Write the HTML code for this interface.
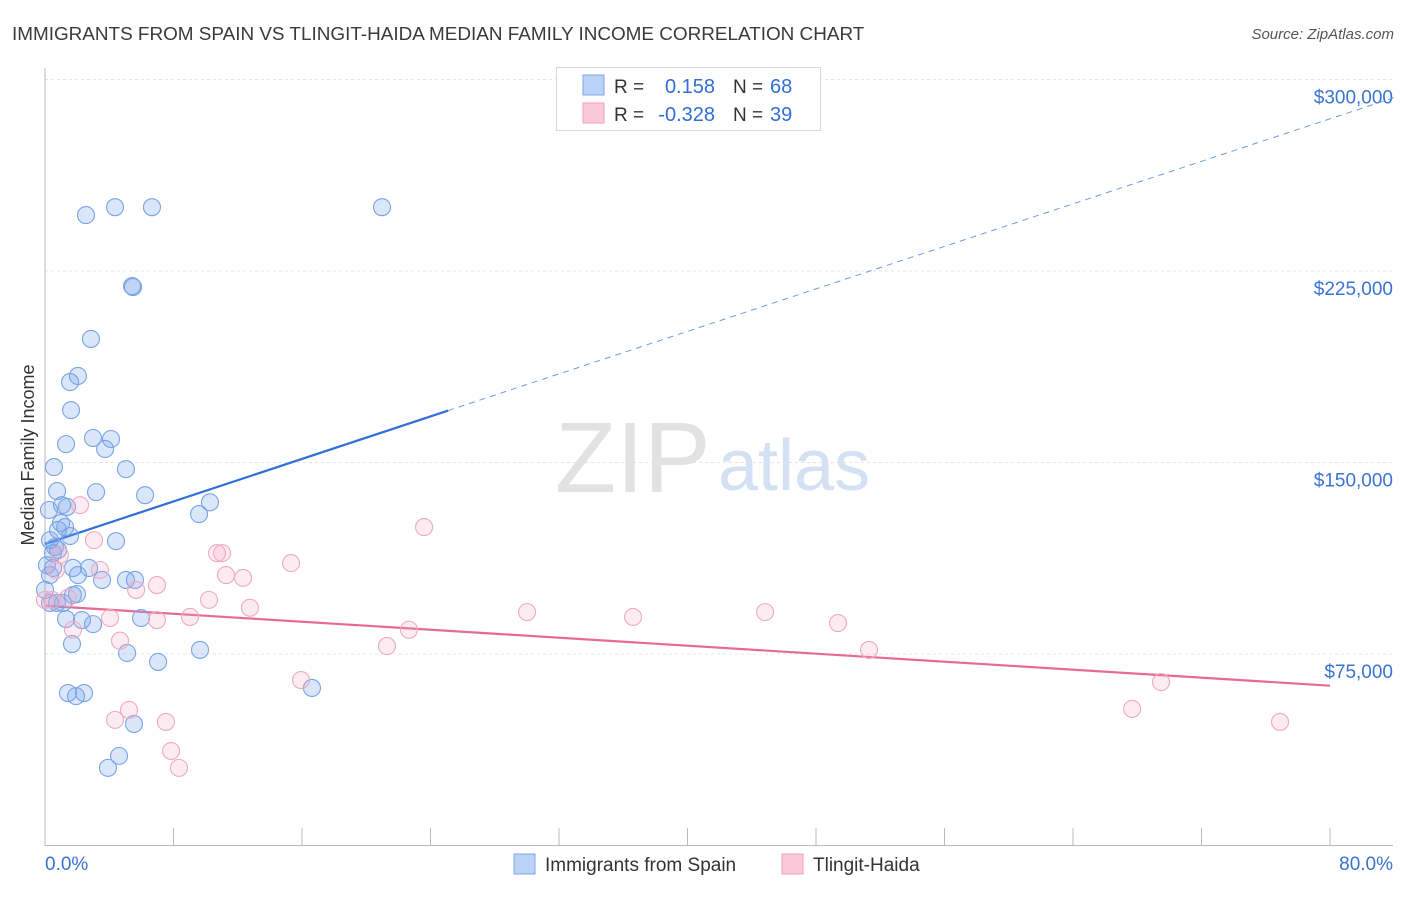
<!DOCTYPE html>
<html><head><meta charset="utf-8"><style>
body{margin:0;background:#fff;font-family:"Liberation Sans",sans-serif;}
svg text{font-family:"Liberation Sans",sans-serif;}
</style></head><body>
<svg id="chart" width="1406" height="892" xmlns="http://www.w3.org/2000/svg">
<text x="12" y="40" font-size="18.9" fill="#3a3a3a">IMMIGRANTS FROM SPAIN VS TLINGIT-HAIDA MEDIAN FAMILY INCOME CORRELATION CHART</text>
<text x="1394" y="39" font-size="15" fill="#555" text-anchor="end" font-style="italic">Source: ZipAtlas.com</text>
<text x="34" y="455" font-size="18" fill="#333" text-anchor="middle" transform="rotate(-90 34 455)">Median Family Income</text>
<text x="555" y="492" font-size="100" fill="#e2e2e2" font-family="Liberation Serif">ZIP</text>
<text x="718" y="490" font-size="72" fill="#d3e1f3">atlas</text>
<g id="grid"></g><g id="axes"></g><g id="lines"></g><g id="pts"></g>
<g>
<rect x="556.5" y="67.5" width="264" height="63" fill="#fff" stroke="#d8d8d8"/>
<rect x="583" y="75" width="21" height="20" fill="#b9d2f5" stroke="#7ea6e6"/>
<rect x="583" y="103" width="21" height="20" fill="#fbc9d8" stroke="#eda3ba"/>
<text x="614" y="93" font-size="19" fill="#333">R =</text><text x="715" y="93" font-size="20" fill="#2f6fd6" text-anchor="end">0.158</text>
<text x="733" y="93" font-size="19" fill="#333">N =</text><text x="770" y="93" font-size="20" fill="#2f6fd6">68</text>
<text x="614" y="121" font-size="19" fill="#333">R =</text><text x="715" y="121" font-size="20" fill="#2f6fd6" text-anchor="end">-0.328</text>
<text x="733" y="121" font-size="19" fill="#333">N =</text><text x="770" y="121" font-size="20" fill="#2f6fd6">39</text>
</g>
<g>
<rect x="514" y="854" width="21" height="20" fill="#b9d2f5" stroke="#7ea6e6"/>
<text x="545" y="871" font-size="19" fill="#333">Immigrants from Spain</text>
<rect x="782" y="854" width="21" height="20" fill="#fbc9d8" stroke="#eda3ba"/>
<text x="813" y="871" font-size="19" fill="#333">Tlingit-Haida</text>
</g>
</svg>
<script>
const blueX=[2.55,4.36,6.66,20.98,5.42,5.48,2.86,2.05,1.56,1.62,1.31,2.99,4.11,3.74,0.56,5.04,0.75,3.18,6.23,10.27,9.59,1.06,0.25,1.37,1.00,1.25,0.81,1.56,4.42,0.31,0.62,0.81,0.50,0.12,0.50,1.74,2.74,2.05,5.04,5.60,3.55,1.74,1.99,0.75,1.12,0.31,1.31,2.30,2.99,5.98,1.68,5.11,7.04,9.65,16.62,1.43,2.43,1.93,5.54,4.61,3.92,0,0.31];
const blueY=[246.9,250,250,250,219.1,218.7,198.4,183.9,181.5,170.5,157.2,159.6,159.2,155.3,148.2,147.4,138.8,138.4,137.2,134.4,129.8,133.3,131.4,132.6,126.3,124.7,123.6,121.2,119.2,119.6,116.9,115.7,114.5,109.8,108.7,108.7,108.7,105.9,104,104,104,98.1,98.5,95,95,95,88.7,88.3,86.7,89.1,78.9,75.4,71.9,76.6,61.7,59.7,59.7,58.5,47.6,35.1,30.4,100.1,105.9];
const pinkX=[2.18,23.6,3.05,10.71,11.02,15.32,11.27,12.33,0.68,3.42,6.97,5.67,10.21,12.76,4.05,6.97,9.03,30.01,36.61,44.83,49.37,22.66,1.74,4.67,21.29,51.3,15.94,69.48,5.23,67.68,4.36,7.53,76.89,7.85,8.34,0.44,0.93,0,1.43];
const pinkY=[133.3,124.7,119.6,114.5,114.5,110.6,105.9,104.8,107.9,107.9,102,100.1,96.2,93.1,89.1,88.3,89.5,91.4,89.5,91.4,87.1,84.5,84.5,80.2,78.1,76.6,64.8,64,53.1,53.5,49.2,48.4,48.4,37,30.4,96.2,113.8,96.2,97];
const yTicks=[75,150,225,300];
const yTickLabels=["$75,000","$150,000","$225,000","$300,000"];
const blueTrend=[118.1,284.6];
const pinkTrend=[93.9,62.6];
const NS="http://www.w3.org/2000/svg";
const sx=v=>45+v/80*1285;
const sy=v=>845.5-v/75*191.5;
function mk(t,a,p){const e=document.createElementNS(NS,t);for(const k in a)e.setAttribute(k,a[k]);document.getElementById(p).appendChild(e);return e;}
yTicks.forEach((t,i)=>{
 const g=mk('line',{x1:45,x2:1393,y1:sy(t),y2:sy(t),stroke:'#e4e4e4','stroke-dasharray':'3,3'},'grid');
 
 
 const l=mk('text',{x:1393,y:sy(t)+24,'font-size':19,fill:'#3b73d1','text-anchor':'end'},'grid');
 l.textContent=yTickLabels[i];
 
 
});
const ax=mk('line',{x1:45,x2:45,y1:68,y2:846,stroke:'#bbb'},'axes');


const bx=mk('line',{x1:45,x2:1393,y1:845.5,y2:845.5,stroke:'#bbb'},'axes');


for(let i=0;i<=10;i++){const t=mk('line',{x1:sx(i*8),x2:sx(i*8),y1:828,y2:846,stroke:'#bbb'},'axes');
 
 }
const x0=mk('text',{x:45,y:870,'font-size':19,fill:'#3b73d1'},'axes');x0.textContent='0.0%';


const x1=mk('text',{x:1393,y:870,'font-size':19,fill:'#3b73d1','text-anchor':'end'},'axes');x1.textContent='80.0%';


const bt=v=>blueTrend[0]+(blueTrend[1]-blueTrend[0])*v/80;
const b1=mk('line',{x1:sx(0),y1:sy(bt(0)),x2:sx(25.1),y2:sy(bt(25.1)),stroke:'#2e6fd8','stroke-width':2.2},'lines');


const b2=mk('line',{x1:sx(25.1),y1:sy(bt(25.1)),x2:sx(84.2),y2:sy(bt(84.2)),stroke:'#6d9be0','stroke-width':1,'stroke-dasharray':'6,5'},'lines');


const p1=mk('line',{x1:sx(0),y1:sy(pinkTrend[0]),x2:sx(80),y2:sy(pinkTrend[1]),stroke:'#e66a95','stroke-width':2.2},'lines');


blueX.forEach((x,i)=>{const c=mk('circle',{cx:sx(x),cy:sy(blueY[i]),r:8.5,fill:'rgba(120,165,235,0.27)',stroke:'#7aa4e4','stroke-width':1.1},'pts');
 
 });
pinkX.forEach((x,i)=>{const c=mk('circle',{cx:sx(x),cy:sy(pinkY[i]),r:8.5,fill:'rgba(245,165,195,0.22)',stroke:'#eeaac1','stroke-width':1.1},'pts');
 
 });
</script>
</body></html>
